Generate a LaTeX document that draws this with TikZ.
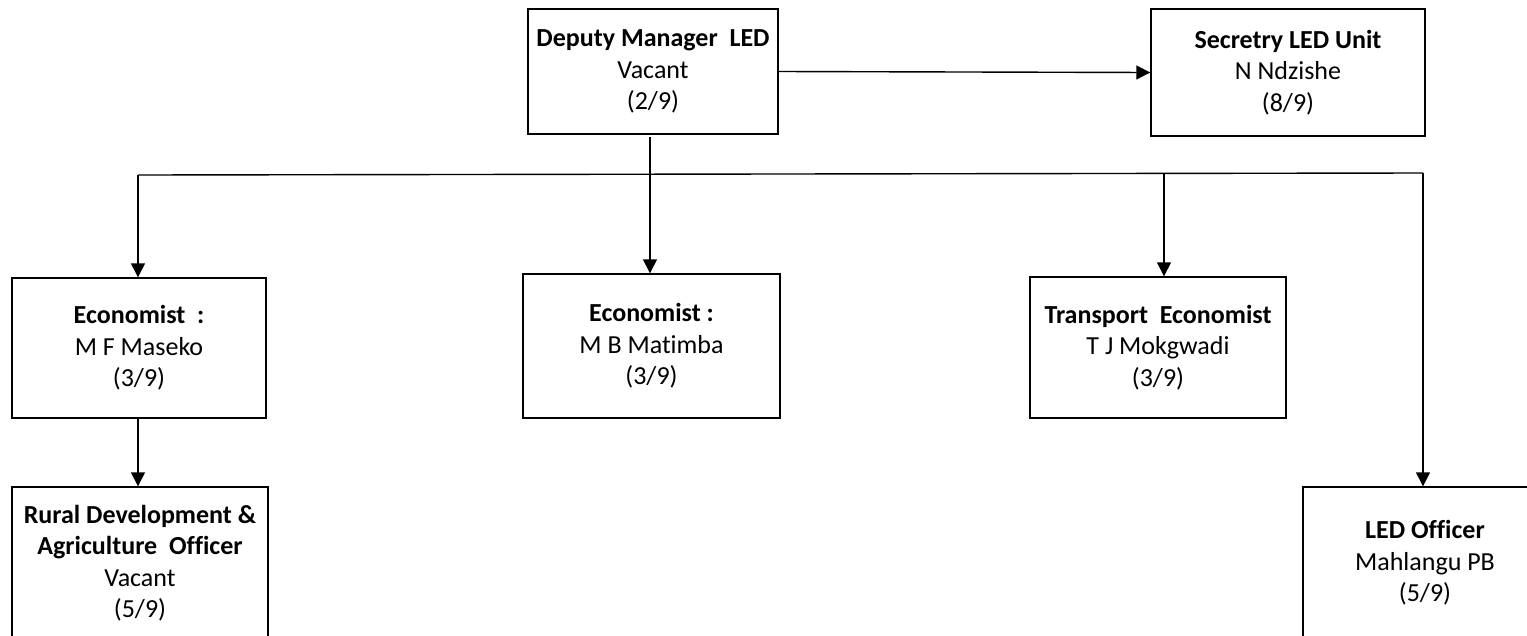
\documentclass[tikz,border=0pt]{standalone}
\usepackage{fontspec}
\setmainfont{Carlito}[Ligatures={NoCommon,NoContextual}]
\usetikzlibrary{arrows.meta}
\begin{document}
\begin{tikzpicture}[x=1pt,y=-1pt,
  post/.style={draw=black, line width=1.4pt, rectangle, align=center,
    inner sep=0pt, font=\fontsize{26}{31.5}\selectfont},
  link/.style={line width=1.4pt},
  arr/.style={link, -{Triangle[length=14pt,width=14pt]}}]
\useasboundingbox (0,0) rectangle (1527,635);
\clip (0,0) rectangle (1527,635);

% posts
\node[post, minimum width=250pt, minimum height=125pt] (dep) at (653,71.5)
  {\textbf{Deputy Manager\ \ LED}\\Vacant\\(2/9)};
\node[post, minimum width=274pt, minimum height=127pt] (sec) at (1288,72.5)
  {\textbf{Secretry LED Unit}\\N Ndzishe\\(8/9)};
\node[post, minimum width=254pt, minimum height=140pt] (eco1) at (139,348)
  {\textbf{Economist\ \ :}\\M F Maseko\\(3/9)};
\node[post, minimum width=257pt, minimum height=144pt] (eco2) at (651.5,346)
  {\textbf{Economist\ :}\\M B Matimba\\(3/9)};
\node[post, minimum width=256pt, minimum height=141pt] (trans) at (1158,347.5)
  {\textbf{Transport\ \ Economist}\\T J Mokgwadi\\(3/9)};
\node[post, minimum width=256pt, minimum height=152pt] (rural) at (140,563)
  {\textbf{Rural Development \&}\\\textbf{Agriculture\ \ Officer}\\Vacant\\(5/9)};
\node[post, minimum width=244pt, minimum height=152pt] (led) at (1425,563)
  {\textbf{LED Officer}\\Mahlangu PB\\(5/9)};

% distribution bus below the deputy manager
\coordinate (busL) at (138,175);
\coordinate (busR) at (1423,173);
\coordinate (busM) at (650,174);
\coordinate (busT) at (1164,174);
\coordinate (depOut) at (650,137);

\draw[arr] (dep.east) -- (sec.west);
\draw[link] (depOut) -- (busM);
\draw[link] (busL) -- (busR);
\draw[arr] (busL) -- (busL |- eco1.north);
\draw[arr] (busM) -- (busM |- eco2.north);
\draw[arr] (busT) -- (busT |- trans.north);
\draw[arr] (busR) -- (busR |- led.north);
\draw[arr] (eco1.south -| busL) -- (busL |- rural.north);
\end{tikzpicture}
\end{document}
